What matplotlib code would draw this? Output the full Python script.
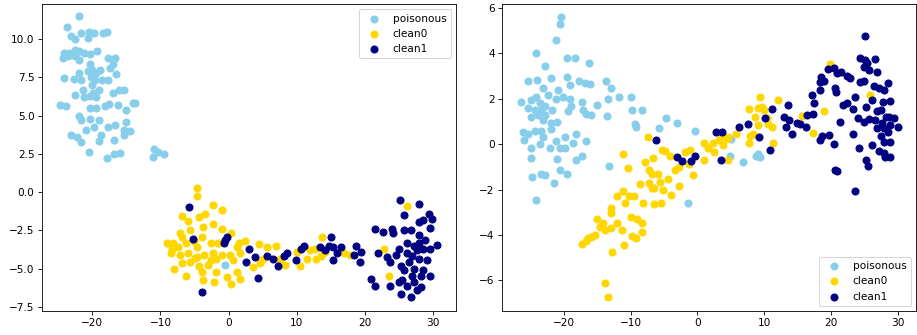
import matplotlib
matplotlib.use("Agg")
import matplotlib.pyplot as plt
import numpy as np

labels = ["poisonous", "clean0", "clean1"]
colors = ["skyblue", "gold", "navy"]

# ---------- left panel ----------
left_poison_x = [-21.9, -23.7, -23.2, -22.6, -21.6, -20.5, -19.8, -20.6, -18.4, -17.8,
                 -24.1, -23.4, -22.6, -21.9, -21.2, -22.5, -23.6, -24.3, -20.4, -19.3,
                 -21.9, -20.4, -17.7, -16.7, -17.4, -16.9, -20.6, -20.0, -19.4, -18.9,
                 -20.2, -19.6, -21.9, -22.7, -24.2, -21.6, -20.0, -18.6, -17.7, -16.5,
                 -21.4, -22.5, -21.3, -20.4, -19.4, -19.9, -19.0, -17.0, -16.1, -15.4,
                 -24.7, -23.9, -20.4, -19.4, -18.2, -17.6, -16.2, -15.1, -14.1, -13.8,
                 -22.0, -21.6, -20.4, -19.0, -15.1, -20.9, -19.8, -18.8, -17.7, -16.7,
                 -15.4, -14.5, -15.4, -23.1, -22.3, -21.7, -19.0, -16.8, -20.5, -17.9,
                 -16.8, -15.9, -10.9, -10.4, -11.1, -9.5, -0.5]
left_poison_y = [11.5, 10.8, 10.2, 10.0, 10.4, 10.5, 10.4, 10.1, 10.4, 10.5,
                 9.1, 9.1, 9.3, 9.2, 9.1, 8.9, 8.9, 8.75, 9.0, 9.2,
                 8.65, 8.4, 8.75, 8.75, 8.1, 8.4, 7.9, 8.0, 7.8, 8.0,
                 7.5, 7.3, 7.8, 7.4, 7.45, 7.3, 7.0, 7.3, 7.3, 7.7,
                 6.7, 6.35, 6.2, 6.3, 6.2, 6.5, 6.7, 6.5, 6.7, 6.7,
                 5.7, 5.6, 5.5, 5.5, 5.6, 5.75, 5.7, 5.4, 5.8, 5.85,
                 5.0, 4.7, 4.8, 4.7, 4.6, 4.05, 4.25, 3.75, 4.25, 4.4,
                 4.05, 4.0, 3.75, 3.75, 3.6, 3.3, 3.35, 3.4, 2.65, 2.2,
                 2.5, 2.55, 2.8, 2.6, 2.3, 2.5, -4.75]

left_clean0_x = [-4.7, -4.7, -2.25, -0.9, -6.9, -5.9, -4.4, -3.4, -3.8, -2.25,
                 -5.7, -7.2, -6.9, -1.0, 0.3, -9.1, -8.1, -8.3, -7.5, -6.2,
                 -5.1, -3.9, -2.6, -4.6, -1.5, -8.5, -7.2, -5.9, -4.7, -3.6,
                 -2.25, -6.8, -5.6, -4.3, -3.0, -8.0, -3.9, -1.8, -6.2, -3.7,
                 -2.1, -0.3, 0.35, 1.7, 1.2, 0.7, 1.2, 2.4, 1.5, -1.8,
                 -1.0, 0.2, 1.7, 3.6, 4.6, 5.1, 4.5, 5.6, 7.0, 7.5,
                 8.3, 10.1, 10.5, 11.5, 12.0, 12.7, 12.9, 13.6, 13.7, 16.9,
                 17.8, 22.8, 23.6, 26.2, -2.6, -5.0, 14.2]
left_clean0_y = [0.25, -0.25, -0.85, -1.15, -1.55, -1.9, -1.6, -1.45, -2.3, -2.1,
                 -2.45, -2.65, -2.9, -2.4, -2.65, -3.3, -3.35, -3.7, -3.6, -3.35,
                 -3.2, -2.95, -3.35, -3.6, -3.3, -4.0, -4.1, -4.0, -4.25, -4.1,
                 -4.0, -4.65, -4.55, -4.8, -4.75, -5.0, -5.2, -5.2, -5.45, -5.75,
                 -5.9, -5.55, -6.0, -5.65, -5.2, -4.45, -3.6, -3.2, -3.35, -4.35,
                 -4.1, -4.1, -3.95, -4.9, -4.65, -4.35, -3.4, -3.6, -3.55, -4.35,
                 -4.75, -3.9, -4.8, -4.35, -3.8, -3.7, -4.4, -4.15, -2.95, -4.0,
                 -4.1, -3.7, -5.45, -0.9, -4.45, -4.3, -3.9]

left_clean1_x = [-5.8, -5.2, -3.9, -0.7, -0.3, 3.0, 2.5, 3.9, 4.3, 5.7,
                 6.5, 7.2, 8.2, 8.6, 9.9, 10.7, 11.1, 15.1, 14.7, 15.4,
                 14.2, 15.9, 15.4, 16.5, 13.4, 18.7, 18.4, 19.5, 19.3, 20.9,
                 21.5, 21.5, 22.7, 24.0, 24.1, 22.0, 23.3, 23.7, 23.7, 25.2,
                 27.9, 25.8, 25.7, 26.8, 27.9, 28.5, 29.4, 29.9, 29.6, 28.0,
                 28.8, 27.2, 26.2, 25.0, 24.6, 26.2, 27.6, 28.6, 29.6, 30.6,
                 25.3, 26.5, 27.9, 29.2, 25.8, 27.3, 28.6, 26.9, 28.2, 29.6,
                 25.0, 25.5, 27.2, 26.2, 28.2, 25.3, 26.8, 27.6, 27.0, 28.0,
                 -0.5]
left_clean1_y = [-0.95, -3.05, -6.55, -3.3, -2.95, -3.7, -4.55, -4.25, -5.6, -4.2,
                 -4.35, -4.8, -4.15, -3.95, -4.45, -3.7, -3.55, -2.95, -3.5, -3.6,
                 -3.8, -4.0, -4.45, -3.6, -3.6, -3.5, -4.1, -3.9, -4.55, -5.65,
                 -6.15, -2.4, -2.6, -2.4, -2.65, -4.0, -4.25, -4.55, -6.15, -0.5,
                 -0.75, -1.5, -2.5, -2.45, -1.95, -1.85, -1.4, -1.75, -2.35, -2.8,
                 -3.15, -3.5, -3.35, -3.7, -4.1, -4.0, -3.8, -3.7, -3.7, -3.45,
                 -4.8, -4.55, -4.4, -4.45, -5.1, -5.0, -5.1, -5.45, -5.45, -5.45,
                 -5.85, -5.75, -5.85, -6.15, -6.2, -6.65, -6.85, -6.4, -4.2, -3.3,
                 -3.1]

# ---------- right panel ----------
right_poison_x = [-20.35, -20.6, -21.1, -24.1, -22.75, -25.35, -23.95, -21.95, -19.45, -18.3,
                  -16.2, -19.45, -19.1, -20.85, -17.7, -16.85, -16.0, -13.7, -12.95, -11.75,
                  -9.95, -13.45, -14.95, -13.6, -9.85, -8.3, -9.35, -9.2, -4.7, -3.1,
                  -5.8, -0.3, -26.35, -25.35, -24.85, -24.1, -23.1, -22.35, -23.6, -22.85,
                  -24.35, -23.35, -24.9, -23.9, -22.85, -23.1, -21.7, -21.1, -20.1, -19.1,
                  -18.95, -19.3, -17.2, -17.1, -16.6, -15.85, -21.85, -21.0, -21.85, -26.1,
                  -25.35, -24.35, -23.45, -25.95, -23.1, -18.2, -19.85, -21.1, -18.6, -16.7,
                  -23.6, -24.85, -22.1, -20.6, -19.85, -17.2, -18.2, -21.0, -24.85, -20.5,
                  -19.5, -23.35, -22.75, -24.8, -21.45, -24.2, -13.2, -1.35, 5.0, 4.9,
                  6.9, 8.8, 9.4, 9.15]
right_poison_y = [5.6, 5.3, 4.6, 4.0, 3.45, 2.8, 2.85, 2.9, 3.8, 3.8,
                  3.6, 2.95, 2.6, 2.4, 2.8, 2.7, 2.65, 2.8, 2.5, 2.1,
                  2.1, 2.0, 1.75, 1.25, 1.5, 1.5, 0.9, 0.75, 1.15, 0.95,
                  0.7, 0.6, 1.85, 1.6, 1.95, 2.1, 2.5, 2.15, 1.8, 1.7,
                  1.5, 1.5, 1.2, 1.3, 1.3, 1.05, 1.5, 2.0, 2.1, 2.0,
                  1.7, 1.45, 1.85, 1.5, 1.35, 1.3, 0.95, 1.0, 0.65, 0.55,
                  0.45, 0.6, 0.6, 0.2, 0.3, 0.45, 0.3, 0.15, 0.05, 0.15,
                  0.0, -0.15, -0.15, -0.15, -0.15, -0.5, -0.7, -0.65, -0.6, -1.15,
                  -1.3, -1.3, -1.35, -1.45, -1.7, -2.45, -0.95, -2.6, 0.25, -0.5,
                  -0.8, -0.5, -0.55, -0.45]

right_clean0_x = [-7.35, -13.35, -13.85, -12.85, -17.2, -16.6, -15.95, -15.35, -15.0, -14.1,
                  -13.85, -12.95, -13.0, -12.95, -12.1, -11.35, -11.0, -12.1, -11.2, -10.85,
                  -10.2, -9.5, -10.0, -9.1, -8.35, -8.3, -9.85, -9.2, -8.2, -8.6,
                  -7.85, -7.2, -6.85, -6.7, -7.2, -6.85, -6.45, -5.95, -5.6, -5.2,
                  -5.35, -4.85, -4.45, -4.0, -5.4, -6.45, -2.8, -3.35, -2.7, -4.1,
                  -11.2, -10.45, -1.85, -1.1, -0.6, -1.2, 1.05, 1.65, 2.5, 1.05,
                  2.4, 3.3, 3.9, 4.4, 3.65, 4.55, 5.8, 4.55, 7.7, 9.4,
                  12.15, 9.05, 9.65, 8.65, 9.05, 8.4, 7.9, 7.8, 10.05, 10.4,
                  10.65, 11.15, 11.4, 15.65, 17.3, 18.9, 19.8, 25.9, -16.3, -14.6]
right_clean0_y = [0.3, -6.75, -6.1, -4.75, -4.4, -4.25, -4.1, -4.0, -3.3, -3.45,
                  -3.8, -3.7, -3.05, -2.8, -3.45, -3.8, -4.45, -2.3, -2.05, -2.6,
                  -2.3, -2.3, -3.2, -3.3, -3.45, -3.85, -4.05, -4.15, -2.6, -1.75,
                  -0.8, -1.15, -1.3, -0.6, -1.7, -1.95, -1.95, -1.3, -1.65, -2.0,
                  -0.25, -0.3, -1.55, -2.25, -2.6, -2.65, -1.85, -1.15, -1.0, -0.5,
                  -0.45, -1.05, -0.35, -0.25, -1.35, -0.85, 0.05, -0.15, -0.35, -0.7,
                  0.05, 0.2, -0.05, 0.25, 0.4, 0.3, 0.45, -0.7, 1.55, 2.1,
                  1.95, 1.6, 1.65, 1.2, 0.85, 0.45, 0.35, 0.05, 1.5, 1.15,
                  0.9, 0.75, 0.05, 1.25, 0.5, 1.45, 3.55, 2.15, -4.15, -3.65]

right_clean1_x = [-6.2, -3.1, -2.35, -1.0, -0.35, 2.8, 3.65, 3.55, 6.3, 7.65,
                  9.3, 10.15, 11.15, 10.9, 13.05, 13.55, 13.3, 13.8, 14.15, 14.9,
                  15.4, 16.25, 16.4, 17.4, 17.3, 17.15, 18.4, 18.55, 18.4, 18.9,
                  19.55, 20.4, 20.9, 21.55, 22.4, 22.8, 20.65, 20.8, 21.8, 22.4,
                  23.3, 23.65, 21.4, 24.05, 18.65, 18.4, 19.65, 20.4, 23.3, 24.15,
                  23.55, 20.65, 20.9, 25.05, 24.4, 25.05, 25.4, 26.65, 24.9, 25.65,
                  26.85, 24.3, 24.9, 26.4, 27.15, 27.9, 28.5, 26.15, 25.25, 27.8,
                  28.8, 25.0, 25.65, 26.9, 27.5, 28.65, 29.4, 26.65, 27.65, 28.3,
                  26.9, 27.9, 30.05, 28.9, 27.55, 28.5, 28.0, 28.9, 26.15, 27.15,
                  27.9, 28.15, 28.9, 25.3, 25.5]
right_clean1_y = [0.2, -0.55, -0.75, -0.75, -0.5, 0.55, 0.55, -0.7, 0.75, 0.9,
                  0.3, 1.15, 1.55, -0.25, 1.2, 1.75, 0.75, 1.05, 0.45, 0.95,
                  0.9, 0.75, 1.3, 1.8, 1.35, 2.15, 2.4, 2.95, 2.75, 2.8,
                  3.3, 3.35, 3.15, 3.2, 3.0, 2.9, 2.5, 2.3, 1.75, 1.8,
                  1.55, 2.1, 1.0, 1.15, 0.35, 0.2, 0.4, 0.0, 0.45, -0.15,
                  -2.05, -1.15, -1.2, 4.75, 3.8, 3.7, 3.6, 3.75, 3.4, 3.25,
                  3.2, 2.75, 2.8, 2.55, 2.5, 2.4, 2.7, 1.95, 1.65, 1.85,
                  1.9, 1.0, 1.1, 1.45, 1.5, 1.2, 1.15, 1.05, 0.95, 1.2,
                  0.7, 0.7, 0.75, 0.85, 0.35, 0.55, 0.1, 0.1, -0.05, -0.3,
                  -0.4, -0.55, -0.55, -0.7, -0.95]

dpi = 76
fig = plt.figure(figsize=(917 / dpi, 335 / dpi), dpi=dpi)
W, H = 917, 335
ax1 = fig.add_axes([42 / W, (H - 311) / H, 414 / W, 307 / H])
ax2 = fig.add_axes([502 / W, (H - 311) / H, 414 / W, 307 / H])

left_sets = [(left_poison_x, left_poison_y), (left_clean0_x, left_clean0_y),
             (left_clean1_x, left_clean1_y)]
right_sets = [(right_poison_x, right_poison_y), (right_clean0_x, right_clean0_y),
              (right_clean1_x, right_clean1_y)]

msize = 44
for (xs, ys), lab, c in zip(left_sets, labels, colors):
    ax1.scatter(xs, ys, c=c, s=msize, label=lab)
for (xs, ys), lab, c in zip(right_sets, labels, colors):
    ax2.scatter(xs, ys, c=c, s=msize, label=lab)

ax1.set_xlim(-27.4, 33.4)
ax1.set_ylim(-7.77, 12.3)
ax1.set_yticks([-7.5, -5.0, -2.5, 0.0, 2.5, 5.0, 7.5, 10.0])
ax1.set_xticks([-20, -10, 0, 10, 20, 30])
ax1.legend(loc="upper right")

ax2.set_xlim(-29.25, 32.75)
ax2.set_ylim(-7.35, 6.18)
ax2.set_yticks([-6, -4, -2, 0, 2, 4, 6])
ax2.set_xticks([-20, -10, 0, 10, 20, 30])
ax2.legend(loc="lower right")

fig.savefig("out.png", dpi=dpi)
